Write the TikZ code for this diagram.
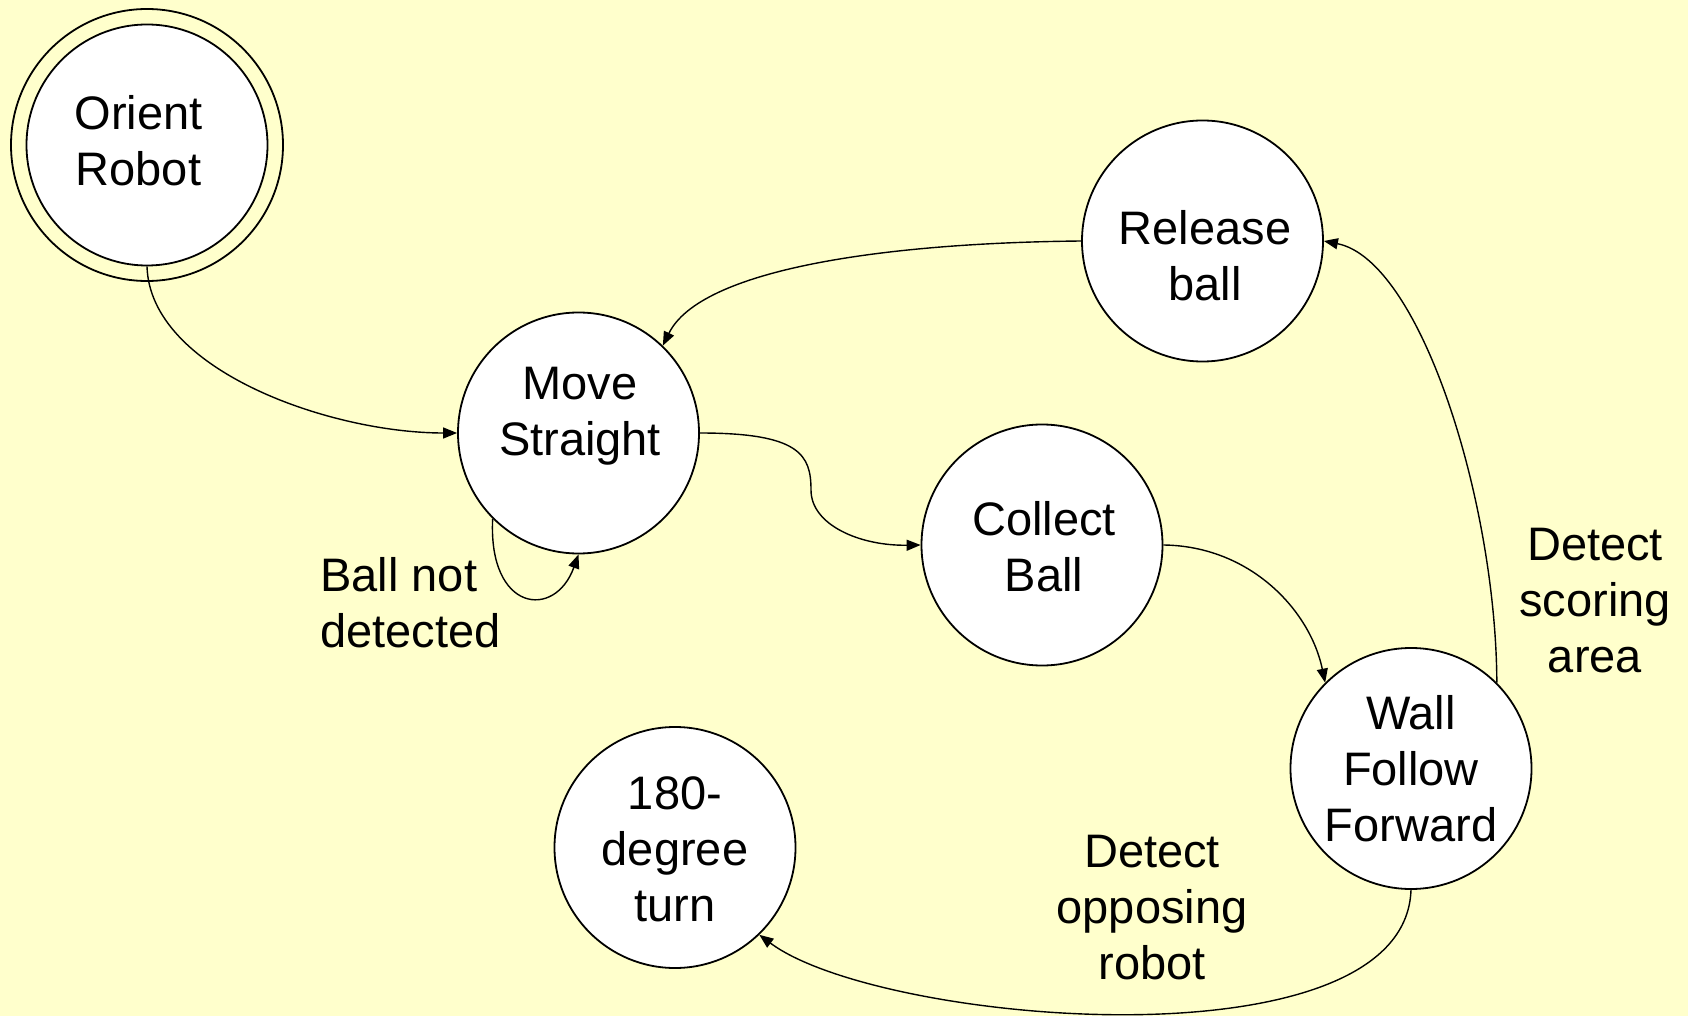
\documentclass[tikz,border=0pt]{standalone}
\usepackage{fontspec}
\setmainfont{Liberation Sans}
\usetikzlibrary{arrows.meta}
\definecolor{bgyellow}{RGB}{255,255,204}
\begin{document}
\begin{tikzpicture}[x=0.5pt,y=-0.5pt,
  statenode/.style={circle, draw, line width=0.9pt, fill=white, minimum size=120.5pt, inner sep=0pt},
  ringnode/.style={circle, draw, line width=0.9pt, minimum size=136pt, inner sep=0pt},
  txt/.style={font=\fontsize{23.5pt}{28pt}\selectfont, align=center, inner sep=0pt},
  edge/.style={line width=0.7pt, -{Triangle[length=7pt,width=5.5pt]}}]
\fill[bgyellow] (0,0) rectangle (1688,1016);
\useasboundingbox (0,0) rectangle (1688,1016);

% states
\node[ringnode] (orientring) at (147,145) {};
\node[statenode] (orient) at (147,145) {};
\node[statenode] (move) at (578.5,433) {};
\node[statenode] (release) at (1202.5,241) {};
\node[statenode] (collect) at (1042,545) {};
\node[statenode] (wall) at (1411,768.5) {};
\node[statenode] (turn) at (675,847.5) {};

% state texts
\node[txt] (orientt) at (138.5,140.5) {Orient\\Robot};
\node[txt] (movet) at (580,416) {Move\\Straight};
\node[txt] (releaset) at (1205,256) {Release\\ball};
\node[txt] (collectt) at (1044,546.5) {Collect\\Ball};
\node[txt] (wallt) at (1411,768.5) {Wall\\Follow\\Forward};
\node[txt] (turnt) at (675,849.5) {180-\\degree\\turn};

% transition labels
\node[txt, align=left, anchor=west] (lblball) at (320,603) {Ball not\\detected};
\node[txt] (lblscore) at (1595,601) {Detect\\scoring\\area};
\node[txt] (lblopp) at (1152,907.5) {Detect\\opposing\\robot};

% transitions
\draw[edge] (orient.south) .. controls (150,370) and (330,433) .. (move.west);
\draw[edge] (release.west) .. controls (880,243) and (700,270) .. (move.46);
\draw[edge] (move.east) .. controls (800,433) and (811,455) .. (811,490)
  .. controls (811,525) and (860,546) .. (collect.west);
\draw[edge] (collect.east) .. controls (1250,546) and (1310,610) .. (wall.135);
\draw[edge] (wall.45) .. controls (1496,500) and (1420,260) .. (release.east);
\draw[edge] (wall.south) .. controls (1405,1070) and (880,1025) .. (turn.-46);
\draw[edge] (move.225) .. controls (488,612) and (555,620) .. (move.south);
\end{tikzpicture}
\end{document}
